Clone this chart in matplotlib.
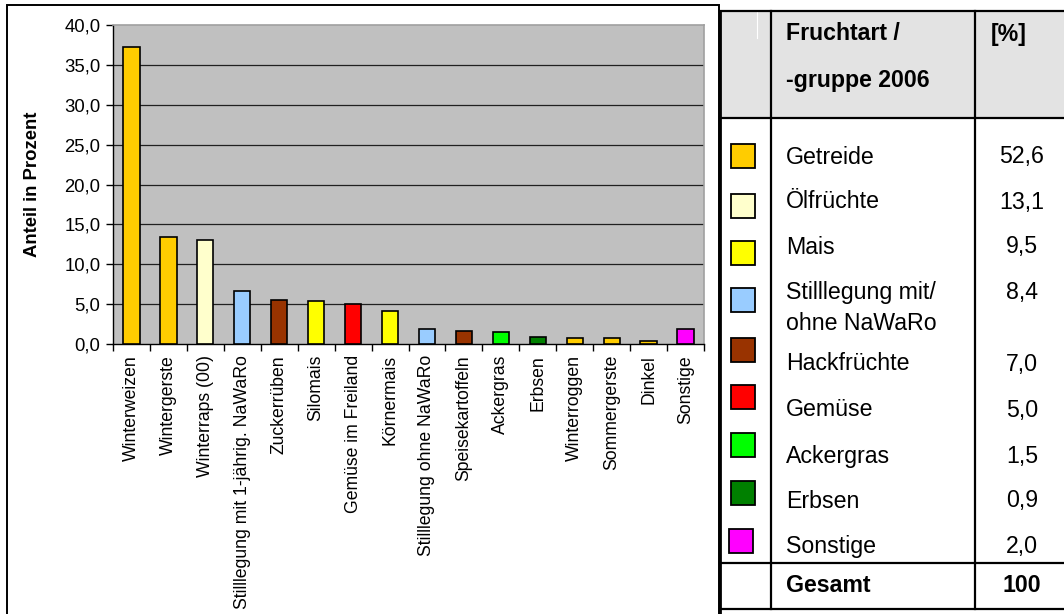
import matplotlib
matplotlib.use("Agg")
import matplotlib.pyplot as plt
from matplotlib.patches import Rectangle
from matplotlib.ticker import FuncFormatter, FixedLocator

plt.rcParams['font.family'] = ['Liberation Sans', 'DejaVu Sans']

# Anteile der einzelnen Fruchtarten (Prozent der Ackerfläche)
crops = ['Winterweizen', 'Wintergerste', 'Winterraps (00)',
         'Stilllegung mit 1-jährig. NaWaRo', 'Zuckerrüben', 'Silomais',
         'Gemüse im Freiland', 'Körnermais', 'Stilllegung ohne NaWaRo',
         'Speisekartoffeln', 'Ackergras', 'Erbsen', 'Winterroggen',
         'Sommergerste', 'Dinkel', 'Sonstige']
shares = [37.2, 13.4, 13.1, 6.6, 5.5, 5.4, 5.0, 4.1, 1.9, 1.6, 1.5, 0.9,
          0.8, 0.8, 0.4, 1.9]
crop_group = ['Getreide', 'Getreide', 'Ölfrüchte', 'Stilllegung', 'Hackfrüchte',
              'Mais', 'Gemüse', 'Mais', 'Stilllegung', 'Hackfrüchte',
              'Ackergras', 'Erbsen', 'Getreide', 'Getreide', 'Getreide',
              'Sonstige']

# Fruchtartengruppen 2006
groups = ['Getreide', 'Ölfrüchte', 'Mais', 'Stilllegung', 'Hackfrüchte',
          'Gemüse', 'Ackergras', 'Erbsen', 'Sonstige']
group_labels = ['Getreide', 'Ölfrüchte', 'Mais', 'Stilllegung mit/\nohne NaWaRo',
                'Hackfrüchte', 'Gemüse', 'Ackergras', 'Erbsen', 'Sonstige']
group_shares = ['52,6', '13,1', '9,5', '8,4', '7,0', '5,0', '1,5', '0,9', '2,0']
total = '100'

group_colors = {
    'Getreide': '#FFCC00',
    'Ölfrüchte': '#FFFFCC',
    'Mais': '#FFFF00',
    'Stilllegung': '#99CCFF',
    'Hackfrüchte': '#993300',
    'Gemüse': '#FF0000',
    'Ackergras': '#00FF00',
    'Erbsen': '#008000',
    'Sonstige': '#FF00FF',
}

W, H = 1064, 614
fig = plt.figure(figsize=(W / 100, H / 100), dpi=100)

# overlay in pixel units for frame and table
ov = fig.add_axes([0, 0, 1, 1])
ov.set_xlim(0, W)
ov.set_ylim(H, 0)
ov.axis('off')

# chart frame
ov.plot([7, 7, 719, 719], [H + 5, 5, 5, H + 5], color='black', lw=1.4,
        solid_joinstyle='miter')

# bar chart
left, top, right, bottom = 113, 25, 704, 344
ax = fig.add_axes([left / W, (H - bottom) / H, (right - left) / W, (bottom - top) / H])
ax.set_facecolor('#C0C0C0')
x = range(len(crops))
ax.bar(x, shares, width=0.44, color=[group_colors[g] for g in crop_group],
       edgecolor='black', linewidth=1.2, zorder=3)
ax.set_xlim(-0.5, len(crops) - 0.5)
ax.set_ylim(0, 40)
ax.set_yticks(range(0, 41, 5))
ax.yaxis.set_major_formatter(FuncFormatter(lambda v, p: f'{v:.1f}'.replace('.', ',')))
for yv in range(5, 40, 5):
    ax.axhline(yv, color='#202020', lw=0.9, zorder=1)
ax.set_xticks(list(x))
ax.set_xticklabels(crops, rotation=90, fontsize=12.7)
ax.xaxis.set_minor_locator(FixedLocator([i - 0.5 for i in range(len(crops) + 1)]))
ax.tick_params(axis='x', which='major', length=0, pad=8)
ax.tick_params(axis='x', which='minor', length=5, width=1, direction='out')
ax.tick_params(axis='y', length=5, width=1, direction='out', labelsize=13.3, pad=4)
ax.set_ylabel('Anteil in Prozent', fontsize=13.3, fontweight='bold')
ax.yaxis.set_label_coords(-0.122, 0.5)
for side in ('top', 'right'):
    ax.spines[side].set_color('#A0A0A0')
    ax.spines[side].set_linewidth(1.2)
for side in ('left', 'bottom'):
    ax.spines[side].set_color('black')
    ax.spines[side].set_linewidth(1.0)

# table: header background and grid lines
ov.add_patch(Rectangle((720, 11), W - 720, 107, facecolor='#E3E3E3', edgecolor='none'))
ov.plot([757, 757], [12, 38], color='white', lw=0.8)
lw = 1.6
ov.plot([720, 720], [11, H], color='black', lw=2.0)
ov.plot([771, 771], [11, 609], color='black', lw=lw)
ov.plot([975, 975], [11, 609], color='black', lw=lw)
for yl in (11, 118, 563, 609):
    ov.plot([720, W], [yl, yl], color='black', lw=lw)

fs = 16.7
ov.text(786, 34, 'Fruchtart /', fontsize=fs, fontweight='bold', va='center')
ov.text(786, 81, '-gruppe 2006', fontsize=fs, fontweight='bold', va='center')
ov.text(991, 34, '[%]', fontsize=fs, fontweight='bold', va='center')

text_y = [157, 202, 247, 293, 364, 410, 456, 501, 546]
box_top = [144, 194, 241, 288, 338, 385, 433, 481, 529]
for g, lab, val, ty, by in zip(groups, group_labels, group_shares, text_y, box_top):
    bx = 729 if g == 'Sonstige' else 731
    ov.add_patch(Rectangle((bx, by), 24, 24, facecolor=group_colors[g],
                           edgecolor='black', lw=1.3))
    lines = lab.split('\n')
    for k, ln in enumerate(lines):
        ov.text(786, ty + 30 * k, ln, fontsize=fs, va='center')
    ov.text(1022, ty, val, fontsize=fs, va='center', ha='center')

ov.text(786, 586, 'Gesamt', fontsize=fs, fontweight='bold', va='center')
ov.text(1022, 586, total, fontsize=fs, fontweight='bold', va='center', ha='center')

fig.savefig('out.png', dpi=100)
